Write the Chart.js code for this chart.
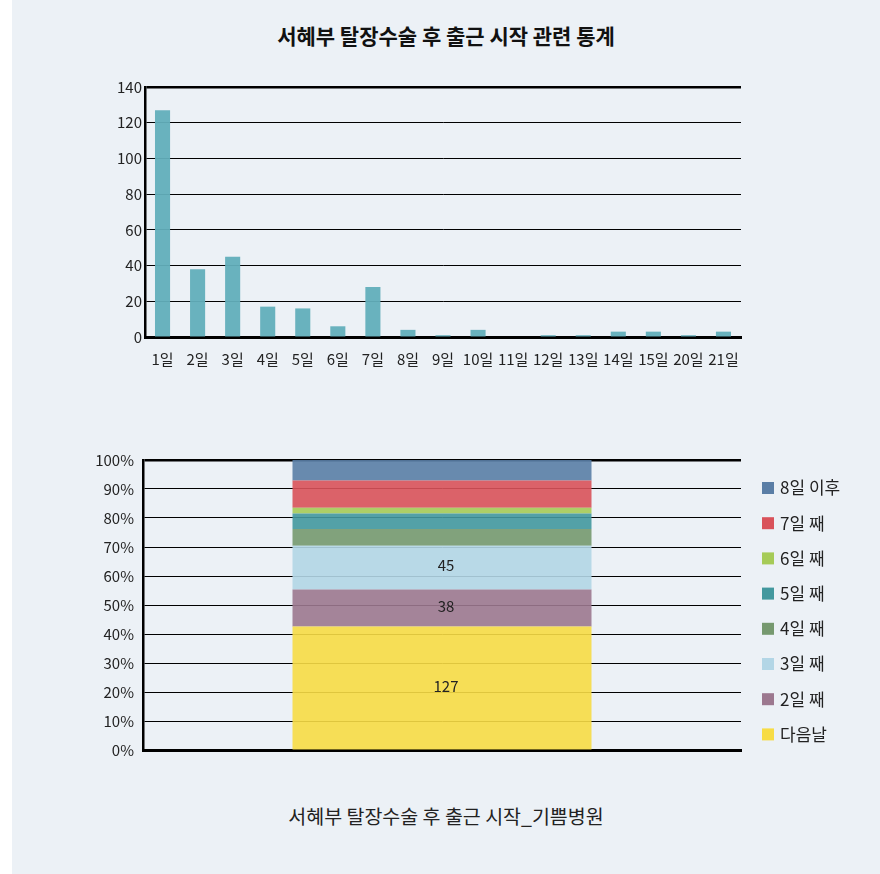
<!DOCTYPE html>
<html>
<head>
<meta charset="utf-8">
<script src="https://cdn.jsdelivr.net/npm/chart.js@4.4.1/dist/chart.umd.min.js"></script>
<style>
  body { margin: 0; background: #fff; font-family: "Noto Sans CJK KR", sans-serif; }
  #panel { position: absolute; left: 12px; top: 0; width: 868px; height: 874px; background: #ecf1f6; }
  #title { position: absolute; left: 0; top: 20px; width: 868px; text-align: center; font-size: 21px; font-weight: bold; color: #111; }
  #caption { position: absolute; left: 0; top: 801px; width: 868px; text-align: center; font-size: 19.5px; color: #222; }
  canvas { position: absolute; left: 0; }
  #dayChart { top: 60px; }
  #stackChart { top: 430px; }
</style>
</head>
<body>
<div id="panel">
  <div id="title">서혜부 탈장수술 후 출근 시작 관련 통계</div>
  <canvas id="dayChart" width="868" height="320"></canvas>
  <canvas id="stackChart" width="868" height="350"></canvas>
  <div id="caption">서혜부 탈장수술 후 출근 시작_기쁨병원</div>
</div>
<script>
// 수술 후 출근까지 걸린 날짜별 인원
const dayLabels = ["1일", "2일", "3일", "4일", "5일", "6일", "7일", "8일", "9일", "10일", "11일", "12일", "13일", "14일", "15일", "20일", "21일"];
const dayCounts = [127, 38, 45, 17, 16, 6, 28, 4, 1, 4, 0, 1, 1, 3, 3, 1, 3];

// 누적 막대 구간
const stackLabels = ["다음날", "2일 째", "3일 째", "4일 째", "5일 째", "6일 째", "7일 째", "8일 이후"];
const stackColors = ["#f7dc45", "#9c788f", "#b3d6e6", "#76996f", "#43989e", "#a6cb57", "#d9525a", "#5a7ea6"];
const stackCounts = dayCounts.slice(0, 7).concat([dayCounts.slice(7).reduce((a, b) => a + b, 0)]);
const stackTotal = stackCounts.reduce((a, b) => a + b, 0);

const fontFam = "'Noto Sans CJK KR', 'Noto Sans', sans-serif";
Chart.defaults.font.family = fontFam;
Chart.defaults.color = "#222";

function withAlpha(hex, a) {
    const n = parseInt(hex.slice(1), 16);
    return `rgba(${n >> 16}, ${(n >> 8) & 255}, ${n & 255}, ${a})`;
}

// 위쪽 막대 그래프
new Chart(document.getElementById("dayChart"), {
    type: "bar",
    data: {
        labels: dayLabels,
        datasets: [{
            data: dayCounts,
            backgroundColor: withAlpha("#62aebb", 0.95),
            barPercentage: 0.43,
            categoryPercentage: 1
        }]
    },
    options: {
        responsive: false,
        animation: false,
        layout: { padding: { top: 27, right: 139, left: 0, bottom: 0 } },
        plugins: { legend: { display: false }, tooltip: { enabled: false } },
        scales: {
            x: {
                grid: { display: false },
                border: { color: "#000", width: 3 },
                ticks: { font: { size: 15 }, padding: 5, maxRotation: 0, autoSkip: false },
                afterFit: (s) => { s.height = 43; }
            },
            y: {
                min: 0,
                max: 140,
                ticks: { stepSize: 20, font: { size: 15 }, padding: 3 },
                grid: {
                    color: "#000",
                    drawTicks: false,
                    lineWidth: (ctx) => (ctx.tick && ctx.tick.value === 140 ? 2.5 : 1)
                },
                border: { color: "#000", width: 2.5 },
                afterFit: (s) => { s.width = 133; }
            }
        }
    }
});

// 구간 안쪽 숫자 표시
const valueLabels = {
    id: "valueLabels",
    afterDatasetsDraw(chart) {
        const ctx = chart.ctx;
        ctx.save();
        ctx.font = "15px " + fontFam;
        ctx.fillStyle = "#222";
        ctx.textAlign = "center";
        ctx.textBaseline = "middle";
        chart.data.datasets.forEach((ds, i) => {
            if (ds.count < 30) return;
            const bar = chart.getDatasetMeta(i).data[0];
            ctx.fillText(String(ds.count), bar.x + 4, (bar.y + bar.base) / 2 - 2);
        });
        ctx.restore();
    }
};

// 오른쪽 범례
const sideLegend = {
    id: "sideLegend",
    afterDraw(chart) {
        const ctx = chart.ctx;
        const x = chart.chartArea.right + 21;
        ctx.save();
        ctx.font = "17px " + fontFam;
        ctx.textBaseline = "middle";
        ctx.textAlign = "left";
        const n = chart.data.datasets.length;
        for (let k = 0; k < n; k++) {
            const ds = chart.data.datasets[n - 1 - k];
            const cy = 58 + k * 35.2;
            ctx.fillStyle = ds.legendColor;
            ctx.fillRect(x, cy - 6, 12, 12);
            ctx.fillStyle = "#222";
            ctx.fillText(ds.label, x + 18, cy);
        }
        ctx.restore();
    }
};

new Chart(document.getElementById("stackChart"), {
    type: "bar",
    data: {
        labels: [""],
        datasets: stackLabels.map((name, i) => ({
            label: name,
            count: stackCounts[i],
            legendColor: stackColors[i],
            data: [stackCounts[i] / stackTotal * 100],
            backgroundColor: withAlpha(stackColors[i], 0.9),
            barPercentage: 0.5,
            categoryPercentage: 1
        }))
    },
    options: {
        responsive: false,
        animation: false,
        layout: { padding: { top: 30, right: 139, left: 0, bottom: 0 } },
        plugins: { legend: { display: false }, tooltip: { enabled: false } },
        scales: {
            x: {
                stacked: true,
                grid: { display: false },
                border: { color: "#000", width: 3 },
                ticks: { display: false },
                afterFit: (s) => { s.height = 30; }
            },
            y: {
                stacked: true,
                min: 0,
                max: 100,
                ticks: { stepSize: 10, font: { size: 15 }, padding: 9, callback: (v) => v + "%" },
                grid: {
                    color: "#000",
                    drawTicks: false,
                    lineWidth: (ctx) => (ctx.tick && ctx.tick.value === 100 ? 2.5 : 1)
                },
                border: { color: "#000", width: 2.5 },
                afterFit: (s) => { s.width = 131; }
            }
        }
    },
    plugins: [valueLabels, sideLegend]
});
</script>
</body>
</html>
